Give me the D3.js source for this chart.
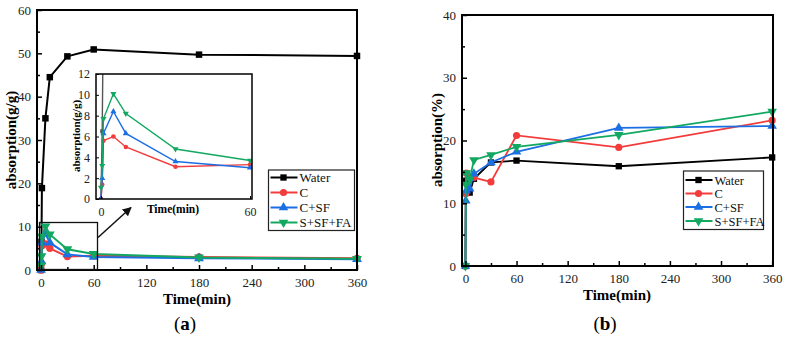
<!DOCTYPE html>
<html>
<head>
<meta charset="utf-8">
<script src="https://cdn.jsdelivr.net/npm/d3@7"></script>
<style>
  body { margin: 0; background: #fff; }
  svg { display: block; }
  svg text { font-family: "Liberation Serif", "DejaVu Serif", "Times New Roman", Times, serif !important; }
</style>
</head>
<body>
<svg id="chart" width="787" height="339"></svg>
<script>
// sampling times (min)
const times = [0, 0.5, 1, 5, 10, 30, 60, 180, 360]
const seriesNames = ['Water', 'C', 'C+SF', 'S+SF+FA']
const colors = ['#000000', '#f23c3c', '#1c6fe3', '#12a862']

// (a) absorption in g/g
const waterA = [0, 6.5, 18.9, 35.0, 44.5, 49.3, 50.9, 49.7, 49.4]
const cA = [0, 1.4, 5.6, 6.0, 5.0, 3.1, 3.3, 3.0, 2.7]
const csfA = [0, 2.0, 6.3, 8.4, 6.3, 3.6, 3.0, 2.7, 2.5]
const ssfA = [1.1, 3.2, 7.7, 10.1, 8.2, 4.8, 3.7, 2.9, 2.6]

// (b) absorption in %
const waterB = [0, 13.4, 13.6, 11.7, 13.9, 16.5, 16.8, 15.9, 17.3]
const cB = [0, 11.5, 14.8, 14.2, 14.1, 13.4, 20.8, 18.9, 23.2]
const csfB = [0, 10.4, 12.0, 12.3, 14.7, 16.5, 18.2, 22.0, 22.3]
const ssfB = [0, 13.0, 14.8, 13.8, 16.9, 17.7, 19.0, 20.9, 24.6]

const xTicks = [0, 60, 120, 180, 240, 300, 360]
const xMinor = [30, 90, 150, 210, 270, 330]
const insetXTicks = [0, 60]
const insetYTicks = [0, 2, 4, 6, 8, 10, 12]

const FONT = '"Liberation Serif", "DejaVu Serif", serif'

const svg = d3.select('#chart')

function toSeries(arrs) {
  return arrs.map((vals, i) => ({
    name: seriesNames[i],
    color: colors[i],
    points: vals.map((v, j) => [times[j], v]),
  }))
}

function drawMarker(g, kind, size, color) {
  const types = [d3.symbolSquare, d3.symbolCircle, d3.symbolTriangle, d3.symbolTriangle]
  const p = g.append('path').attr('d', d3.symbol(types[kind], size)()).attr('fill', color)
  if (kind === 3) p.attr('transform', 'rotate(180)')
}

function drawSeries(layer, series, x, y, lw, msize) {
  const line = d3.line().x((d) => x(d[0])).y((d) => y(d[1]))
  series.forEach((s, i) => {
    const g = layer.append('g')
    g.append('path')
      .attr('d', line(s.points))
      .attr('fill', 'none')
      .attr('stroke', s.color)
      .attr('stroke-width', lw)
    s.points.forEach((p) => {
      const m = g.append('g').attr('transform', `translate(${x(p[0])},${y(p[1])})`)
      drawMarker(m, i, msize, s.color)
    })
  })
}

function drawAxes(g, x, y, o) {
  const bottom = y.range()[0]
  const left = x.range()[0]
  // ticks point inward, Origin style
  g.append('g')
    .attr('transform', `translate(0,${bottom})`)
    .call(d3.axisBottom(x).tickValues(o.xTicks).tickSize(-o.major).tickPadding(8))
    .call((a) => a.select('.domain').remove())
  if (o.xMinor) {
    g.append('g')
      .attr('transform', `translate(0,${bottom})`)
      .call(d3.axisBottom(x).tickValues(o.xMinor).tickSize(-o.minor).tickFormat(''))
      .call((a) => a.select('.domain').remove())
  }
  g.append('g')
    .attr('transform', `translate(${left},0)`)
    .call(d3.axisLeft(y).tickValues(o.yTicks).tickSize(-o.major).tickPadding(6))
    .call((a) => a.select('.domain').remove())
  if (o.yMinor) {
    g.append('g')
      .attr('transform', `translate(${left},0)`)
      .call(d3.axisLeft(y).tickValues(o.yMinor).tickSize(-o.minor).tickFormat(''))
      .call((a) => a.select('.domain').remove())
  }
  g.selectAll('g').attr('font-family', FONT)
  g.selectAll('.tick line').attr('stroke', '#000').attr('stroke-width', o.tickW)
  g.selectAll('.tick text')
    .attr('font-size', o.fontSize)
    .attr('fill', '#222')
  // frame
  g.append('rect')
    .attr('x', x.range()[0])
    .attr('y', y.range()[1])
    .attr('width', x.range()[1] - x.range()[0])
    .attr('height', y.range()[0] - y.range()[1])
    .attr('fill', 'none')
    .attr('stroke', '#000')
    .attr('stroke-width', o.frameW)
}

function drawLegend(g, lx, ly, w, h, rowY, fs) {
  g.append('rect')
    .attr('x', lx).attr('y', ly).attr('width', w).attr('height', h)
    .attr('fill', '#fff').attr('stroke', '#222').attr('stroke-width', 1.2)
  seriesNames.forEach((name, i) => {
    const yy = rowY[i]
    g.append('line')
      .attr('x1', lx + 2).attr('x2', lx + 29).attr('y1', yy).attr('y2', yy)
      .attr('stroke', colors[i]).attr('stroke-width', 2)
    const m = g.append('g').attr('transform', `translate(${lx + 15},${yy})`)
    drawMarker(m, i, 40, colors[i])
    g.append('text')
      .attr('x', lx + 31).attr('y', yy + 4.5)
      .attr('font-size', fs)
      .attr('fill', '#111')
      .text(name)
  })
}

function panelLetter(g, cx, letter) {
  const t = g.append('text')
    .attr('x', cx).attr('y', 330)
    .attr('text-anchor', 'middle')
    .attr('font-size', 19)
  t.append('tspan').text('(')
  t.append('tspan').attr('font-weight', 'bold').text(letter)
  t.append('tspan').text(')')
}

// ---------- panel (a) ----------
const xa = d3.scaleLinear([-4.6, 360], [37, 357])
const ya = d3.scaleLinear([0, 60], [270, 10])
const panelA = svg.append('g').attr('id', 'panel-a')
const seriesA = toSeries([waterA, cA, csfA, ssfA])

drawSeries(panelA.append('g'), seriesA, xa, ya, 2, 42)
drawAxes(panelA, xa, ya, {
  xTicks: xTicks, xMinor: xMinor,
  yTicks: [0, 10, 20, 30, 40, 50, 60], yMinor: [5, 15, 25, 35, 45, 55],
  major: 5, minor: 3, tickW: 1.5, fontSize: 13, frameW: 2,
})

// zoom box and arrow
panelA.append('rect')
  .attr('x', 39.5).attr('y', 222.5).attr('width', 58).attr('height', 47)
  .attr('fill', 'none').attr('stroke', '#111').attr('stroke-width', 1.3)
svg.append('defs').append('marker')
  .attr('id', 'arrow').attr('viewBox', '0 0 10 10')
  .attr('refX', 9).attr('refY', 5)
  .attr('markerWidth', 6).attr('markerHeight', 6)
  .attr('orient', 'auto')
  .append('path').attr('d', 'M0,0 L10,5 L0,10 Z').attr('fill', '#111')
panelA.append('line')
  .attr('x1', 98).attr('y1', 237.5).attr('x2', 131).attr('y2', 207.5)
  .attr('stroke', '#111').attr('stroke-width', 1.5)
  .attr('marker-end', 'url(#arrow)')

// inset
const xi = d3.scaleLinear([-2, 60.8], [96, 252])
const yi = d3.scaleLinear([0, 12], [199, 74])
const inset = panelA.append('g').attr('id', 'inset')
inset.append('rect')
  .attr('x', 96).attr('y', 74).attr('width', 156).attr('height', 125)
  .attr('fill', '#fff')
inset.append('clipPath').attr('id', 'clip-inset')
  .append('rect').attr('x', 96).attr('y', 74).attr('width', 156).attr('height', 125)
const insetSeries = seriesA.map((s, i) =>
  i === 0 ? { ...s, color: '#555' } : s
)
drawSeries(inset.append('g').attr('clip-path', 'url(#clip-inset)'), insetSeries, xi, yi, 1.4, 16)
drawAxes(inset, xi, yi, {
  xTicks: insetXTicks, xMinor: null,
  yTicks: insetYTicks, yMinor: null,
  major: 3, minor: 2, tickW: 1, fontSize: 12, frameW: 1.5,
})
inset.append('text')
  .attr('transform', 'translate(80,136) rotate(-90)')
  .attr('text-anchor', 'middle')
  .attr('font-size', 11).attr('font-weight', 'bold')
  .text('absorption(g/g)')
inset.append('text')
  .attr('x', 173).attr('y', 213)
  .attr('text-anchor', 'middle')
  .attr('font-size', 11.5).attr('font-weight', 'bold')
  .text('Time(min)')

drawLegend(panelA, 268.5, 170, 86, 60.5, [177.5, 192.5, 207.5, 222.5], 13)

panelA.append('text')
  .attr('transform', 'translate(16,140) rotate(-90)')
  .attr('text-anchor', 'middle')
  .attr('font-size', 15).attr('font-weight', 'bold')
  .text('absorption(g/g)')
panelA.append('text')
  .attr('x', 197).attr('y', 304)
  .attr('text-anchor', 'middle')
  .attr('font-size', 15).attr('font-weight', 'bold')
  .text('Time(min)')
panelLetter(panelA, 185, 'a')

// ---------- panel (b) ----------
const xb = d3.scaleLinear([-4, 361], [462, 773])
const yb = d3.scaleLinear([0, 40], [266, 15])
const panelB = svg.append('g').attr('id', 'panel-b')
const seriesB = toSeries([waterB, cB, csfB, ssfB])

drawSeries(panelB.append('g'), seriesB, xb, yb, 1.8, 40)
drawAxes(panelB, xb, yb, {
  xTicks: xTicks, xMinor: xMinor,
  yTicks: [0, 10, 20, 30, 40], yMinor: [5, 15, 25, 35],
  major: 5, minor: 3, tickW: 1.5, fontSize: 13, frameW: 2,
})
drawLegend(panelB, 683.5, 171, 80, 58.5, [180, 193.5, 207, 221], 12.5)

panelB.append('text')
  .attr('transform', 'translate(442,140) rotate(-90)')
  .attr('text-anchor', 'middle')
  .attr('font-size', 15).attr('font-weight', 'bold')
  .text('absorption(%)')
panelB.append('text')
  .attr('x', 617).attr('y', 300)
  .attr('text-anchor', 'middle')
  .attr('font-size', 15).attr('font-weight', 'bold')
  .text('Time(min)')
panelLetter(panelB, 605, 'b')
</script>
</body>
</html>
